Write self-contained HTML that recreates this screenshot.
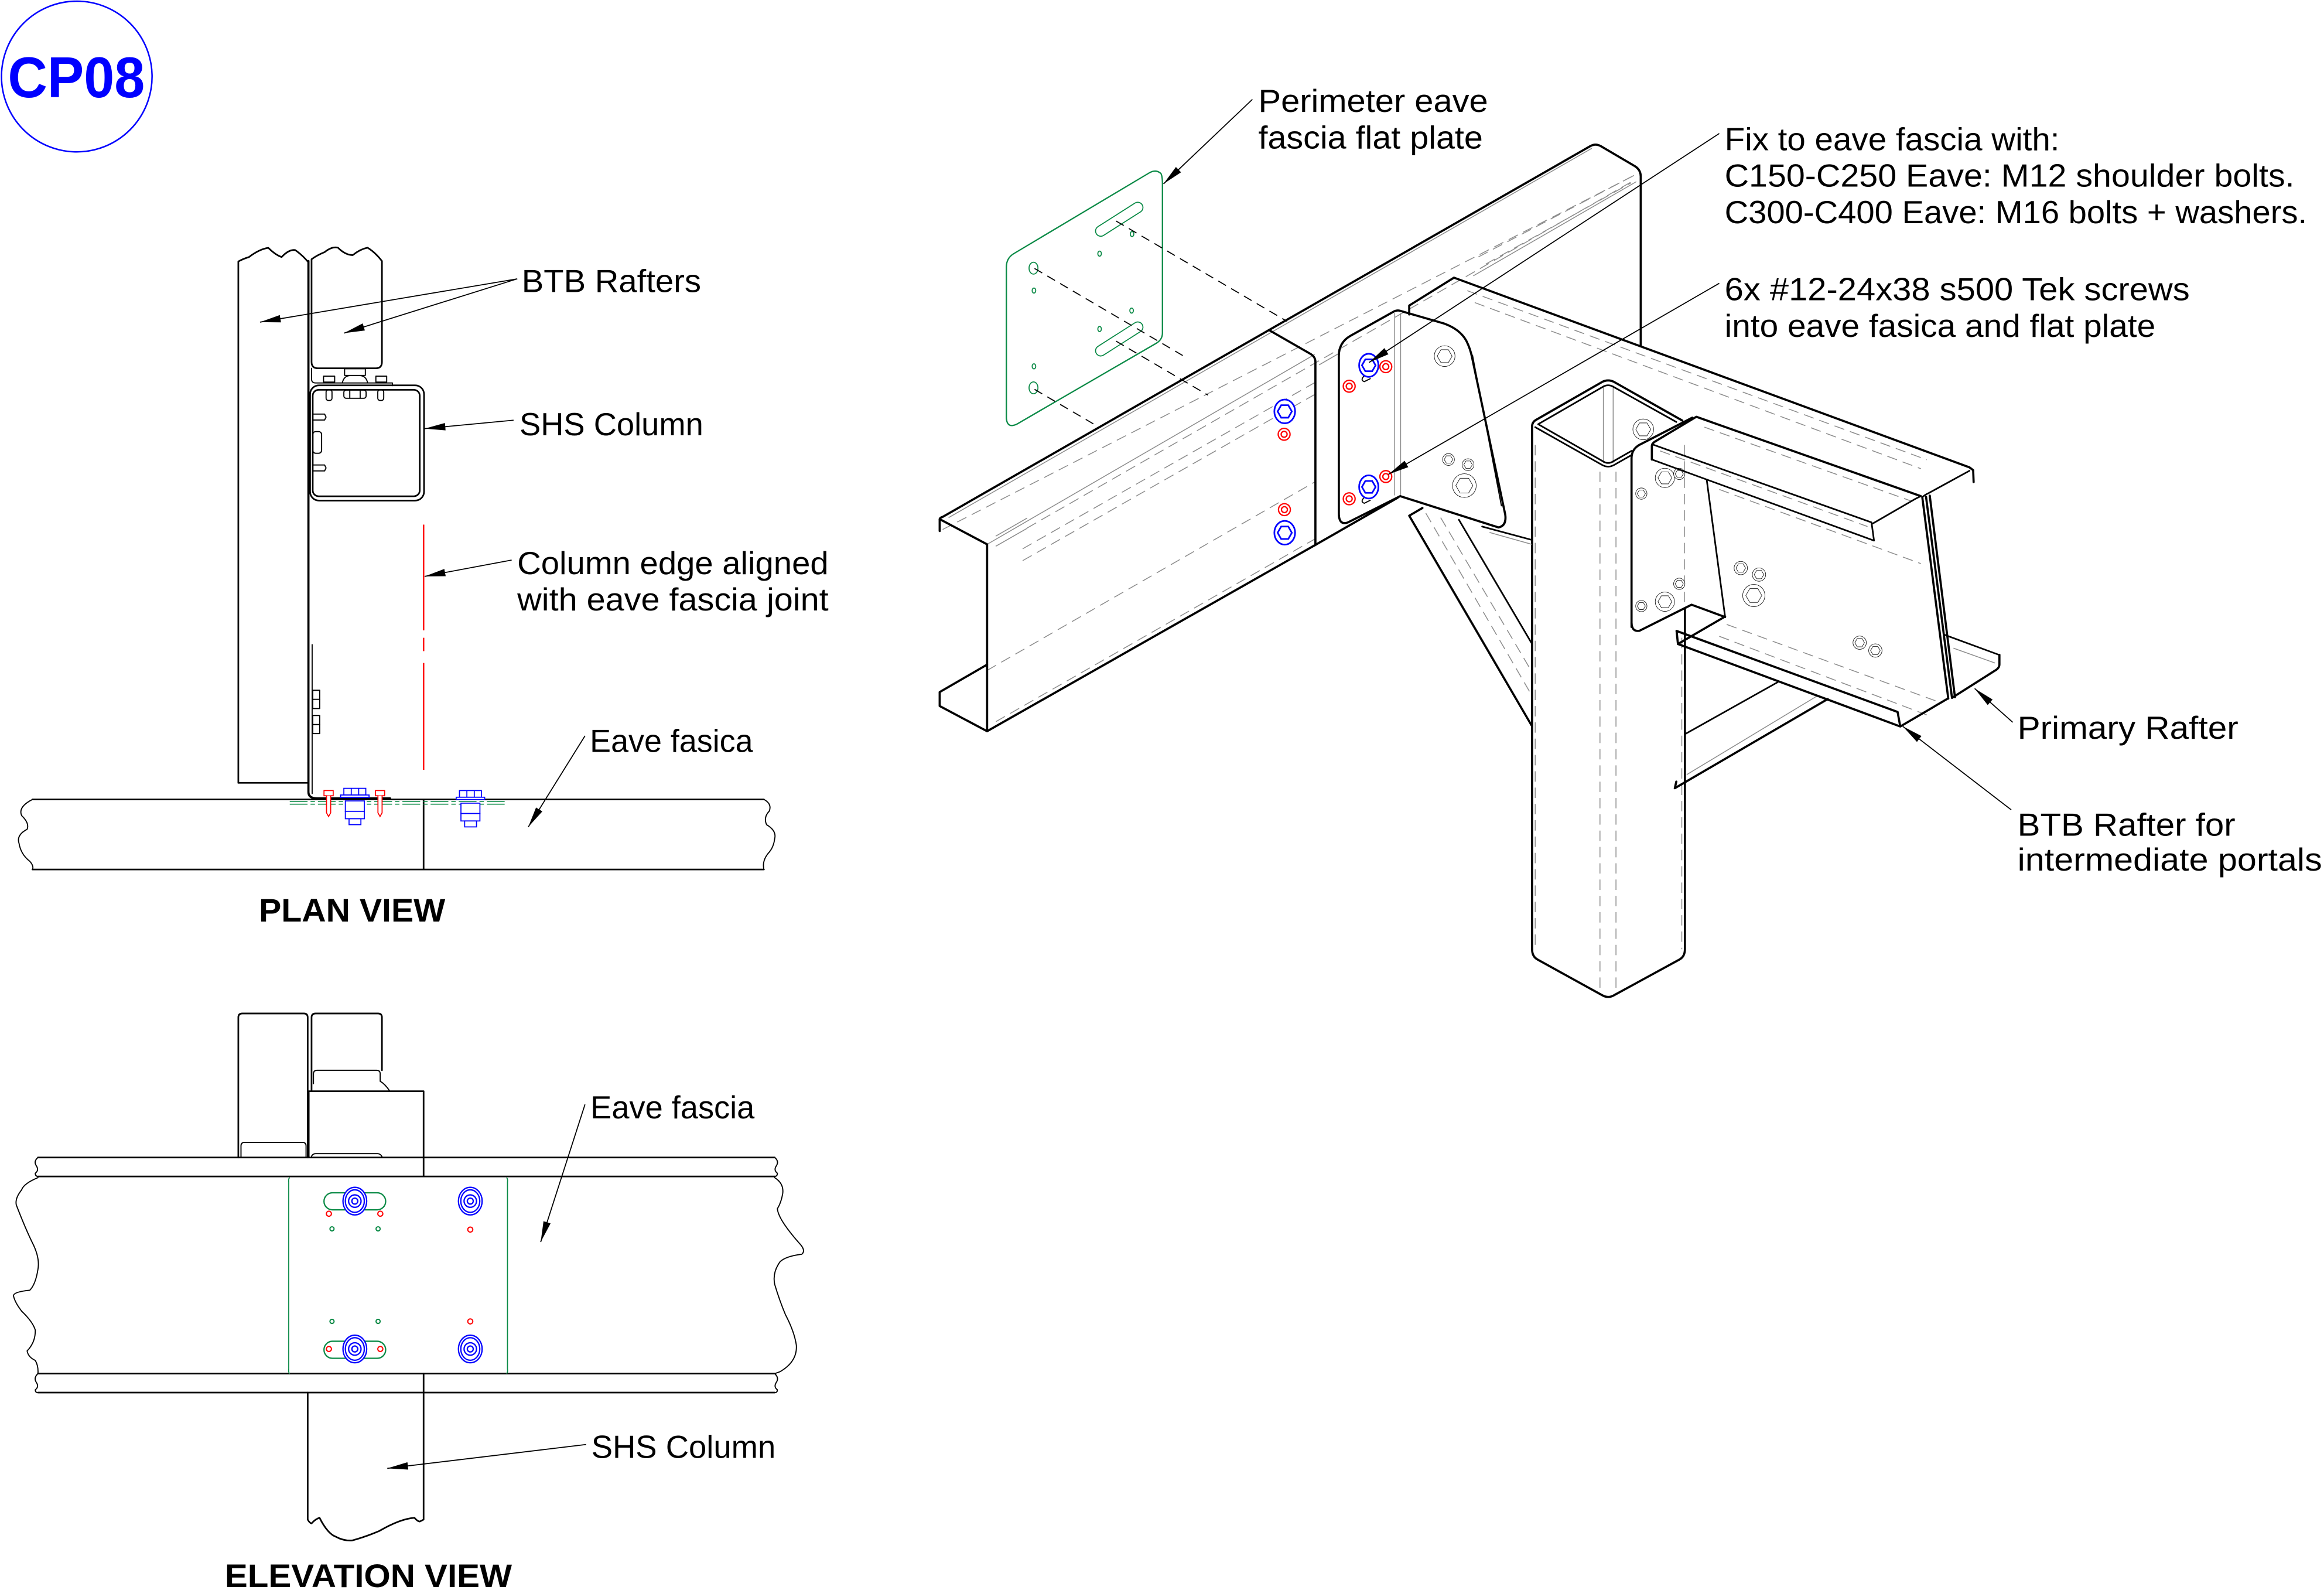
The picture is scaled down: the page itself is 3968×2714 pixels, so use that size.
<!DOCTYPE html>
<html><head><meta charset="utf-8"><style>
html,body{margin:0;padding:0;background:#fff;}
svg{display:block;}
text{font-family:"Liberation Sans",sans-serif;fill:#000;}
.k{fill:none;stroke:#000;stroke-width:1.45;stroke-linecap:round;stroke-linejoin:round}
.m{fill:none;stroke:#000;stroke-width:1.1;stroke-linecap:round;stroke-linejoin:round}
.t{fill:none;stroke:#000;stroke-width:0.75;stroke-linecap:round;stroke-linejoin:round}
.g{fill:none;stroke:#8c8c8c;stroke-width:0.6}
.gd{fill:none;stroke:#8c8c8c;stroke-width:0.6;stroke-dasharray:7 4}
.ld{fill:none;stroke:#000;stroke-width:0.7}
.dd{fill:none;stroke:#000;stroke-width:0.7;stroke-dasharray:6 4}
.bw{fill:#fff;stroke:#000;stroke-width:0.8;vector-effect:non-scaling-stroke}
.bb{fill:#fff;stroke:#0000ff;stroke-width:1.1}
.rr{fill:#fff;stroke:#ff0000;stroke-width:0.9}
.gr{fill:none;stroke:#0a8a46;stroke-width:0.9}
.grt{fill:none;stroke:#0a8a46;stroke-width:0.7}
.lb{font-size:21.5px}
</style></head><body>
<svg xmlns="http://www.w3.org/2000/svg" width="3968" height="2714" viewBox="0 0 1568 1072" preserveAspectRatio="none">
<defs>
<marker id="ah" markerUnits="userSpaceOnUse" markerWidth="14" markerHeight="5" refX="14" refY="2.5" orient="auto" viewBox="0 0 14 5"><path d="M0,0 L14,2.5 L0,5 z" fill="#000"/></marker>
</defs>
<rect width="1568" height="1072" fill="#fff"/>

<!-- CP08 -->
<circle cx="51.8" cy="51.6" r="50.8" fill="none" stroke="#0000ff" stroke-width="1"/>
<text x="5.3" y="65.5" font-size="39" font-weight="bold" style="fill:#0000ff" textLength="92.4" lengthAdjust="spacingAndGlyphs">CP08</text>

<!-- ================= PLAN VIEW ================= -->
<path class="m" d="M160.8,527.8 L160.8,176.3 Q164,174.5 168,173.3 Q175,168 181,167.1 Q186,172 190,173.3 Q195,168 199.2,168.6 Q204,172 207.6,176.3"/>
<path class="m" d="M160.8,527.8 L207.6,527.8"/>
<path class="k" d="M208.1,176 L208.1,534 Q208.1,538.3 214,538.3 L263.2,538.3"/>
<path class="m" d="M210.2,174.8 Q214,172 219,170 Q224,166 228,167 Q233,172 238,172 Q243,168 248,167 Q253,170 257.7,176 L257.7,244 Q257.7,248.3 253.5,248.3 L214.5,248.3 Q210.2,248.3 210.2,244 Z"/>
<path class="t" d="M210.2,248.3 L210.2,256 Q210.5,258.2 213,258.2 L264.8,258.2 L264.8,260"/>
<!-- top bolts -->
<g class="t">
<rect x="218.3" y="253.6" width="7.5" height="4"/>
<rect x="220" y="262.8" width="4" height="7.2" rx="1.5"/>
<rect x="253.6" y="253.6" width="7.3" height="4"/>
<rect x="254.9" y="262.8" width="4" height="7.2" rx="1.5"/>
<rect x="232.5" y="248.6" width="14" height="4.5"/>
<path d="M231,258 Q232,253.5 236,253.2 L243,253.2 Q247,253.5 248,258"/>
<rect x="232" y="263" width="15" height="5.5" rx="1.5"/>
<line x1="236" y1="263" x2="236" y2="268.5"/><line x1="243" y1="263" x2="243" y2="268.5"/>
</g>
<!-- column -->
<rect class="m" x="209.2" y="259.8" width="76.9" height="77.7" rx="6"/>
<rect class="m" x="211" y="262.8" width="72.2" height="71.8" rx="4"/>
<g class="t">
<path d="M211,279.2 L219,279.2 L220,281.2 L219,283.2 L211,283.2"/>
<rect x="211" y="291" width="6" height="14.6" rx="2"/>
<path d="M211,313.5 L219,313.5 L220,315.5 L219,317.5 L211,317.5"/>
<line x1="210.6" y1="434.6" x2="210.6" y2="535"/>
<rect x="211" y="465.4" width="4.7" height="12.3"/>
<rect x="211" y="482.4" width="4.7" height="12.2"/>
<line x1="211" y1="471.5" x2="215.7" y2="471.5"/><line x1="211" y1="488.5" x2="215.7" y2="488.5"/>
</g>
<!-- red alignment line -->
<g stroke="#ff0000" stroke-width="1">
<line x1="285.8" y1="353.7" x2="285.8" y2="425"/>
<line x1="285.8" y1="430" x2="285.8" y2="439"/>
<line x1="285.8" y1="447" x2="285.8" y2="519"/>
</g>
<!-- fascia plan -->
<path class="m" d="M21.9,539 L515.4,539 M21.9,586.2 L515.4,586.2 M285.8,539 L285.8,586.2"/>
<path class="t" d="M21.9,539 Q12,544 14.6,549.9 Q20,555 18.3,559.1 Q11,563 12.8,568.4 Q14,576 20.1,580.7 Q23,584 21.9,586.2"/>
<path class="t" d="M515.4,539 Q521,542 519,546.9 Q515,551 517.2,556 Q524,560 522.7,565.3 Q522,571 519,574.5 Q514,580 515.4,586.2"/>
<g stroke="#0a8a46" stroke-width="0.6" stroke-dasharray="12 2 3 2">
<line x1="195.5" y1="540.4" x2="341.7" y2="540.4"/>
<line x1="195.5" y1="542.2" x2="341.7" y2="542.2"/>
</g>
<g fill="#fff" stroke="#ff0000" stroke-width="0.7">
<rect x="218.6" y="533" width="6.2" height="3.5"/><path d="M220.3,536.5 L220.3,548 L221.7,550.5 L223.1,548 L223.1,536.5"/>
<rect x="253.3" y="533" width="6.2" height="3.5"/><path d="M255,536.5 L255,548 L256.4,550.5 L257.8,548 L257.8,536.5"/>
</g>
<g fill="#fff" stroke="#0000ff" stroke-width="0.7">
<g>
<rect x="232" y="531.5" width="14.8" height="4.5"/><rect x="229.8" y="536" width="19.2" height="1.6"/>
<rect x="233" y="540" width="12.8" height="7"/><rect x="233" y="547" width="12.8" height="5"/><rect x="235.5" y="552" width="8" height="4"/>
<line x1="237" y1="531.5" x2="237" y2="536"/><line x1="242" y1="531.5" x2="242" y2="536"/>
</g>
<g transform="translate(78,1.5)">
<rect x="232" y="531.5" width="14.8" height="4.5"/><rect x="229.8" y="536" width="19.2" height="1.6"/>
<rect x="233" y="540" width="12.8" height="7"/><rect x="233" y="547" width="12.8" height="5"/><rect x="235.5" y="552" width="8" height="4"/>
<line x1="237" y1="531.5" x2="237" y2="536"/><line x1="242" y1="531.5" x2="242" y2="536"/>
</g>
</g>
<!-- plan leaders -->
<path class="ld" d="M349,188 L175.4,217.2" marker-end="url(#ah)"/>
<path class="ld" d="M349,188 L232.1,224.6" marker-end="url(#ah)"/>
<path class="ld" d="M346.5,283.3 L286.5,289" marker-end="url(#ah)"/>
<path class="ld" d="M345.2,377.6 L286.5,388.6" marker-end="url(#ah)"/>
<path class="ld" d="M394.7,496.1 L356.4,557.6" marker-end="url(#ah)"/>
<text class="lb" x="352" y="197" textLength="121" lengthAdjust="spacingAndGlyphs">BTB Rafters</text>
<text class="lb" x="350.5" y="293.5" textLength="124" lengthAdjust="spacingAndGlyphs">SHS Column</text>
<text class="lb" x="349" y="387" textLength="210" lengthAdjust="spacingAndGlyphs">Column edge aligned</text>
<text class="lb" x="349" y="411.5" textLength="210" lengthAdjust="spacingAndGlyphs">with eave fascia joint</text>
<text class="lb" x="398" y="507" textLength="110" lengthAdjust="spacingAndGlyphs">Eave fasica</text>
<text x="174.7" y="621.3" font-size="22" font-weight="bold" textLength="125.7" lengthAdjust="spacingAndGlyphs">PLAN VIEW</text>

<!-- ================= ELEVATION VIEW ================= -->
<path class="m" d="M160.8,780.4 L160.8,686 Q160.8,683.3 163.5,683.3 L205,683.3 Q207.6,683.3 207.6,686 L207.6,780.4"/>
<path class="t" d="M162.6,780.4 L162.6,772.5 Q162.6,770.2 165,770.2 L204,770.2 Q206.5,770.2 206.5,772.5 L206.5,780.4"/>
<path class="m" d="M210.2,735.7 L210.2,686 Q210.2,683.3 213,683.3 L255,683.3 Q257.7,683.3 257.7,686 L257.7,721.6"/>
<path class="t" d="M211.5,730.6 L211.5,724 Q211.5,721.6 214,721.6 L254,721.6 Q256.5,721.6 256.5,724 L256.5,729 Q260,731 263,735.7"/>
<path class="t" d="M210.2,780.4 L210.2,779.5 Q211,777.8 213,777.8 L255,777.8 Q257,778 258,780.4"/>
<path class="m" d="M208.3,780.4 L208.3,735.7 L285.8,735.7 L285.8,793.2"/>
<!-- fascia -->
<path class="m" d="M25.6,780.4 L522.7,780.4 M25.6,793.2 L522.7,793.2 M25.6,926.1 L522.7,926.1 M25.6,938.9 L522.7,938.9"/>
<path class="t" d="M25.6,780.4 Q22.5,783 24.5,786 Q26.5,789 23.8,791 Q23.8,793 25.6,793.2"/>
<path class="t" d="M522.7,780.4 Q525.8,783 523.8,786 Q521.8,789 524.5,791 Q524.5,793 522.7,793.2"/>
<path class="t" d="M25.6,926.1 Q22.5,929 24.5,932 Q26.5,935 23.8,937 Q23.8,939 25.6,938.9"/>
<path class="t" d="M522.7,926.1 Q525.8,929 523.8,932 Q521.8,935 524.5,937 Q524.5,939 522.7,938.9"/>
<path class="t" d="M25.6,794 Q16,798 14.6,802.2 Q10,808 11,812.4 Q17,828 21.9,838 Q27,848 25.6,855.8 Q24,866 20.1,869.9 Q9,871 9.1,873.7 Q10,878 14.6,884 Q22,891 23.8,896.7 Q24,905 18.3,910.8 Q19,915 23.8,917.2 Q26,921 25.6,926.1"/>
<path class="t" d="M522.7,794 Q529,798 528.1,804.7 Q527,811 524.5,814.9 Q525,822 539.1,838 Q544,843 541,845.6 Q530,847 526.3,850.7 Q521,858 522.7,866 Q526,877 530,886.5 Q536,898 537.3,907 Q538,918 526.3,924.8 L522.7,926.1"/>
<path class="m" d="M285.8,926.1 L285.8,938.9"/>
<path class="m" d="M207.6,938.9 L207.6,1024.5 Q209,1027 210.2,1027.1 Q213,1024 215.6,1023.3 Q221,1034 226.6,1036.1 Q232,1039 237.6,1038.6 Q247,1036 255.9,1032.2 Q270,1024 279.6,1023.3 Q282,1026 283.3,1025.8 Q285,1025 285.8,1024.5 L285.8,938.9"/>
<!-- green plate -->
<path class="grt" d="M195.5,794 Q194.5,794.5 194.8,797 L194.8,923 Q194.5,925.5 195.5,926.1 M341.7,794 Q342.7,794.5 342.4,797 L342.4,923 Q342.7,925.5 341.7,926.1"/>
<rect class="gr" x="218.6" y="804.2" width="41.6" height="11.5" rx="5.75"/>
<rect class="gr" x="218.6" y="904.3" width="41.6" height="11.5" rx="5.75"/>
<g fill="#fff" stroke="#0000ff" stroke-width="0.9">
<g transform="translate(239.4,809.8)"><ellipse rx="8" ry="9.3"/><ellipse rx="6.4" ry="7.6"/><circle r="4.2"/><circle r="2"/></g>
<g transform="translate(317.3,809.8)"><ellipse rx="8" ry="9.3"/><ellipse rx="6.4" ry="7.6"/><circle r="4.2"/><circle r="2"/></g>
<g transform="translate(239.4,909.5)"><ellipse rx="8" ry="9.3"/><ellipse rx="6.4" ry="7.6"/><circle r="4.2"/><circle r="2"/></g>
<g transform="translate(317.3,909.5)"><ellipse rx="8" ry="9.3"/><ellipse rx="6.4" ry="7.6"/><circle r="4.2"/><circle r="2"/></g>
</g>
<g fill="none" stroke="#ff0000" stroke-width="0.8">
<circle cx="221.9" cy="818.3" r="1.7"/><circle cx="256.6" cy="818.3" r="1.7"/>
<circle cx="317.3" cy="829" r="1.7"/><circle cx="317.3" cy="890.9" r="1.7"/>
<circle cx="221.9" cy="909.5" r="1.7"/><circle cx="256.6" cy="909.5" r="1.7"/>
</g>
<g fill="none" stroke="#0a8a46" stroke-width="0.8">
<circle cx="224" cy="828.5" r="1.4"/><circle cx="255.1" cy="828.5" r="1.4"/>
<circle cx="224" cy="890.9" r="1.4"/><circle cx="255.1" cy="890.9" r="1.4"/>
</g>
<path class="ld" d="M394.7,744.6 L364.8,837.4" marker-end="url(#ah)"/>
<path class="ld" d="M395.5,973.9 L261.3,990" marker-end="url(#ah)"/>
<text class="lb" x="398.4" y="754" textLength="110.7" lengthAdjust="spacingAndGlyphs">Eave fascia</text>
<text class="lb" x="399" y="983" textLength="124.3" lengthAdjust="spacingAndGlyphs">SHS Column</text>
<text x="151.7" y="1070" font-size="22" font-weight="bold" textLength="193.7" lengthAdjust="spacingAndGlyphs">ELEVATION VIEW</text>

<!-- ================= 3D VIEW ================= -->
<!-- eave hidden/tangent lines -->
<path class="g" d="M666,367 L887,239 M671.8,361.5 L693,349.3 M671.8,368.3 L693,356.2"/>
<path class="gd" d="M636,357 L1104,117.5"/>
<path class="gd" d="M693,356 L1100,123"/>
<path class="gd" d="M690,370 L887,258"/>
<path class="gd" d="M690,378 L887,266"/>
<path class="gd" d="M672,486.5 L887,363.5"/>
<path class="gd" d="M666,452 L887,325"/>
<path class="g" d="M890,246 L903,238.5 M994,186 L1104,122.5"/>
<path class="gd" d="M997.5,173.2 L1103.9,117.5 M1002.4,178.1 L1100.6,123.2"/>
<path class="g" d="M640,349 L1074,100"/>
<!-- eave visible edges -->
<path class="k" d="M634,358 L634,350.5 Q634,349 636,348.5 L1073,98.5 Q1076.5,96.5 1080,98.5 L1103,112 Q1107,114.5 1107,119 L1107,233"/>
<path class="k" d="M634,350 L666,367 L666,493 L634,476 L634,466.6 L666,448.1"/>
<path class="k" d="M666,493 L887.3,367.5 L943,335.6"/>
<path class="k" d="M857,223 L884,238.5 Q887.5,240.5 887.5,244 L887.5,367.5"/>
<!-- eave left piece bolts -->
<g transform="translate(866.8,277.4)"><ellipse class="bb" rx="7" ry="8"/><polygon class="bb" points="4.8,0 2.4,4.2 -2.4,4.2 -4.8,0 -2.4,-4.2 2.4,-4.2"/></g>
<g transform="translate(866.8,359.2)"><ellipse class="bb" rx="7" ry="8"/><polygon class="bb" points="4.8,0 2.4,4.2 -2.4,4.2 -4.8,0 -2.4,-4.2 2.4,-4.2"/></g>
<g transform="translate(866.4,292.8)"><circle class="rr" r="4"/><circle class="rr" r="2"/></g>
<g transform="translate(866.6,343.6)"><circle class="rr" r="4"/><circle class="rr" r="2"/></g>

<!-- flat plate (green) -->
<path class="gr" d="M679,180 Q679,174 684,171 L775.5,116.5 Q780,114 783.3,117 Q784.3,119 784.3,124 L784.3,224.5 Q784.3,229 780,231.5 L686,286 Q679.5,289 679,282 Z"/>
<rect class="grt" x="737.2" y="145.5" width="36.6" height="7" rx="3.5" transform="rotate(-32.5 753.3 149)"/>
<rect class="grt" x="737.2" y="226.2" width="36.6" height="7" rx="3.5" transform="rotate(-32.5 753.3 229.7)"/>
<g class="grt">
<ellipse cx="697.3" cy="180.8" rx="3" ry="4"/><ellipse cx="697.3" cy="261.5" rx="3" ry="4"/>
<ellipse cx="763.8" cy="157.8" rx="1.2" ry="1.7"/><ellipse cx="741.9" cy="171" rx="1.2" ry="1.7"/>
<ellipse cx="697.6" cy="195.9" rx="1.2" ry="1.7"/><ellipse cx="763.5" cy="209.4" rx="1.2" ry="1.7"/>
<ellipse cx="741.9" cy="221.8" rx="1.2" ry="1.7"/><ellipse cx="697.6" cy="247" rx="1.2" ry="1.7"/>
</g>
<path class="dd" d="M753,149 L868.3,216.6 M698,181 L798,239.7 M753,230 L815,266.4 M698,262.5 L741,287.7"/>
<path class="ld" d="M845,67 L785,124" marker-end="url(#ah)"/>

<!-- primary rafter -->
<path class="gd" d="M990,196 L1300,310 M995,204 L1296,316"/>
<path class="k" d="M950.8,212 L950.8,206 L981,187.2 L1328.8,315.1 L1331.3,317 L1331.6,325"/>
<path class="m" d="M1328.8,317.4 L1301,332.6 Q1298,334 1297,335.4"/>
<path class="k" d="M1317.3,470.3 L1347,451.5 Q1349,450 1349,448 L1349,441.5"/>
<path class="m" d="M1312,428 L1348.2,441.3"/>
<path class="g" d="M1318,437 L1346,447"/>

<!-- column -->
<path class="gd" d="M1079.5,318 L1079.5,668 M1090.3,318 L1090.3,668 M1035.8,300 L1035.8,640 M1134.7,430 L1134.7,640"/>
<path class="g" d="M1081.8,260 L1081.8,312 M1088.4,260 L1088.4,312"/>
<path class="k" d="M1033.7,640 L1033.7,287.5 Q1033.7,284.5 1036.5,283 L1081,257.5 Q1085,255.5 1089,257.5 L1135,283.5"/>
<path class="m" d="M1035.8,288 L1081,313.5 Q1085,315.7 1089,313.5 L1100.8,306.8"/>
<path class="m" d="M1037.8,286 L1082,260.5 Q1085,259 1088,260.5 L1131,284.5 M1037.8,286 L1082,311.3 Q1085,313 1088,311.3 L1100.8,304"/>
<path class="k" d="M1033.7,640 Q1033.7,645 1037.5,647 L1081,671 Q1085,673.3 1089,671 L1133,647 Q1136.8,645 1136.8,640 L1136.8,410"/>

<!-- left knee brace -->
<path class="gd" d="M962,346 L1033,468 M972,349 L1033,452"/>
<path class="k" d="M959.7,342.5 L950.8,347.7 L1033.3,489"/>
<path class="m" d="M984.3,350.4 L1033.3,433.5"/>
<path class="m" d="M1000,355 L1033.5,364"/>
<path class="g" d="M1005,359 L1033.5,367"/>

<!-- eave cleat -->
<path class="g" d="M941,211 L941,334 M945,211 L945,334"/>
<path class="k" d="M903.3,346 L903.3,240 Q903.3,231 911,226.5 L940.5,210 Q942.5,209 944.5,209.5 L974.5,218.2 Q985,222 989.3,229.7 Q992,235 993.2,241 L1015.6,347 Q1016.6,354.5 1011,355.6 L944.7,334.5 L909.5,352.2 Q903.3,354.5 903.3,346 Z"/>
<path class="t" d="M993.5,239.5 L1013,341"/>
<!-- cleat bolts -->
<g transform="translate(923.5,246.3)"><path class="t" d="M-3,7 Q-6,10 -3,11 L1,9"/><ellipse class="bb" rx="6.5" ry="7.8"/><polygon class="bb" points="4.6,0 2.3,4 -2.3,4 -4.6,0 -2.3,-4 2.3,-4"/></g>
<g transform="translate(923.5,328.3)"><path class="t" d="M-3,7 Q-6,10 -3,11 L1,9"/><ellipse class="bb" rx="6.5" ry="7.8"/><polygon class="bb" points="4.6,0 2.3,4 -2.3,4 -4.6,0 -2.3,-4 2.3,-4"/></g>
<g transform="translate(935,247.2)"><circle class="rr" r="4"/><circle class="rr" r="2"/></g>
<g transform="translate(910.3,260.4)"><circle class="rr" r="4"/><circle class="rr" r="2"/></g>
<g transform="translate(935,321.3)"><circle class="rr" r="4"/><circle class="rr" r="2"/></g>
<g transform="translate(910.3,336.3)"><circle class="rr" r="4"/><circle class="rr" r="2"/></g>
<g transform="translate(974.7,240.1) scale(7)"><circle class="bw" r="1"/><polygon class="bw" points="0.72,0 0.36,0.62 -0.36,0.62 -0.72,0 -0.36,-0.62 0.36,-0.62"/></g>
<g transform="translate(988,327.4) scale(8)"><circle class="bw" r="1"/><polygon class="bw" points="0.72,0 0.36,0.62 -0.36,0.62 -0.72,0 -0.36,-0.62 0.36,-0.62"/></g>
<g transform="translate(977.3,309.8) scale(4)"><circle class="bw" r="1"/><polygon class="bw" points="0.72,0 0.36,0.62 -0.36,0.62 -0.72,0 -0.36,-0.62 0.36,-0.62"/></g>
<g transform="translate(990.5,313.3) scale(4)"><circle class="bw" r="1"/><polygon class="bw" points="0.72,0 0.36,0.62 -0.36,0.62 -0.72,0 -0.36,-0.62 0.36,-0.62"/></g>

<!-- right knee brace -->
<path class="g" d="M1138,522.3 L1226.4,469"/>
<path class="m" d="M1136.8,495 L1199.3,460"/>
<path class="k" d="M1130,531.4 L1233.2,471.3 M1130,531.4 L1131,527"/>

<!-- BTB cleat -->
<path class="gd" d="M1136.5,300 L1136.5,408"/>
<path class="k" d="M1100.8,422.7 L1100.8,309 Q1100.8,303 1106,300 L1141.8,281.6"/>
<path class="k" d="M1100.8,420 Q1101,426 1106.1,425.3 L1141.3,407.7 L1163.9,416"/>
<g transform="translate(1108.7,289.5) scale(7)"><circle class="bw" r="1"/><polygon class="bw" points="0.72,0 0.36,0.62 -0.36,0.62 -0.72,0 -0.36,-0.62 0.36,-0.62"/></g>
<g transform="translate(1123.3,322.2) scale(6.5)"><circle class="bw" r="1"/><polygon class="bw" points="0.72,0 0.36,0.62 -0.36,0.62 -0.72,0 -0.36,-0.62 0.36,-0.62"/></g>
<g transform="translate(1123.3,405.7) scale(6.5)"><circle class="bw" r="1"/><polygon class="bw" points="0.72,0 0.36,0.62 -0.36,0.62 -0.72,0 -0.36,-0.62 0.36,-0.62"/></g>
<g transform="translate(1107.4,332.8) scale(3.8)"><circle class="bw" r="1"/><polygon class="bw" points="0.72,0 0.36,0.62 -0.36,0.62 -0.72,0 -0.36,-0.62 0.36,-0.62"/></g>
<g transform="translate(1107.4,408.6) scale(3.8)"><circle class="bw" r="1"/><polygon class="bw" points="0.72,0 0.36,0.62 -0.36,0.62 -0.72,0 -0.36,-0.62 0.36,-0.62"/></g>
<g transform="translate(1133,319.5) scale(3.8)"><circle class="bw" r="1"/><polygon class="bw" points="0.72,0 0.36,0.62 -0.36,0.62 -0.72,0 -0.36,-0.62 0.36,-0.62"/></g>
<g transform="translate(1133,393.6) scale(3.8)"><circle class="bw" r="1"/><polygon class="bw" points="0.72,0 0.36,0.62 -0.36,0.62 -0.72,0 -0.36,-0.62 0.36,-0.62"/></g>

<!-- BTB rafter -->
<path class="gd" d="M1150,288 L1290,338 M1120,304 L1260,355 M1160,330 L1296,380 M1165,421 L1310,474 M1160,429 L1300,482"/>
<path class="k" d="M1114.5,309.8 L1114.5,300.5 Q1115,298.5 1117,297.5 L1144.5,281 L1296,334.5"/>
<path class="m" d="M1114.5,299.5 L1262.7,352.2 L1264.4,364.5 L1114.5,309.8"/>
<path class="m" d="M1263.5,353 L1292,336.5 Q1294.5,335.2 1296,334.5"/>
<path class="k" d="M1297,335.5 L1314.5,471 M1299.5,335 L1317,470.5 M1302,334.2 L1319,470"/>
<path class="m" d="M1151.5,323.3 L1163.9,415.7"/>
<path class="k" d="M1131.2,425.4 L1132.1,434.2 L1163.9,415.7"/>
<path class="k" d="M1131.2,425.4 L1280.3,480 L1282.1,489.8 L1313.8,471.2 M1132.1,434.2 L1282.1,489.8"/>
<g transform="translate(1174.5,383) scale(4.5)"><circle class="bw" r="1"/><polygon class="bw" points="0.72,0 0.36,0.62 -0.36,0.62 -0.72,0 -0.36,-0.62 0.36,-0.62"/></g>
<g transform="translate(1186.8,387.4) scale(4.5)"><circle class="bw" r="1"/><polygon class="bw" points="0.72,0 0.36,0.62 -0.36,0.62 -0.72,0 -0.36,-0.62 0.36,-0.62"/></g>
<g transform="translate(1183.3,401.5) scale(7.5)"><circle class="bw" r="1"/><polygon class="bw" points="0.72,0 0.36,0.62 -0.36,0.62 -0.72,0 -0.36,-0.62 0.36,-0.62"/></g>
<g transform="translate(1254.7,433.3) scale(4.5)"><circle class="bw" r="1"/><polygon class="bw" points="0.72,0 0.36,0.62 -0.36,0.62 -0.72,0 -0.36,-0.62 0.36,-0.62"/></g>
<g transform="translate(1265.3,438.6) scale(4.5)"><circle class="bw" r="1"/><polygon class="bw" points="0.72,0 0.36,0.62 -0.36,0.62 -0.72,0 -0.36,-0.62 0.36,-0.62"/></g>

<!-- 3D leaders -->
<path class="ld" d="M1160,90 L923.7,244.4" marker-end="url(#ah)"/>
<path class="ld" d="M1160,191 L936.8,319.8" marker-end="url(#ah)"/>
<path class="ld" d="M1358,487 L1332.3,464.2" marker-end="url(#ah)"/>
<path class="ld" d="M1357,546 L1283.8,489.7" marker-end="url(#ah)"/>

<!-- 3D labels -->
<text class="lb" x="849" y="75.5" textLength="155" lengthAdjust="spacingAndGlyphs">Perimeter eave</text>
<text class="lb" x="849" y="100.2" textLength="151.5" lengthAdjust="spacingAndGlyphs">fascia flat plate</text>
<text class="lb" x="1163.6" y="101.4" textLength="226" lengthAdjust="spacingAndGlyphs">Fix to eave fascia with:</text>
<text class="lb" x="1163.6" y="125.9" textLength="384.5" lengthAdjust="spacingAndGlyphs">C150-C250 Eave: M12 shoulder bolts.</text>
<text class="lb" x="1163.6" y="150.5" textLength="393" lengthAdjust="spacingAndGlyphs">C300-C400 Eave: M16 bolts + washers.</text>
<text class="lb" x="1163.6" y="202.4" textLength="313.8" lengthAdjust="spacingAndGlyphs">6x #12-24x38 s500 Tek screws</text>
<text class="lb" x="1163.6" y="227.1" textLength="290.7" lengthAdjust="spacingAndGlyphs">into eave fasica and flat plate</text>
<text class="lb" x="1361.2" y="498" textLength="149" lengthAdjust="spacingAndGlyphs">Primary Rafter</text>
<text class="lb" x="1361.2" y="563.4" textLength="147" lengthAdjust="spacingAndGlyphs">BTB Rafter for</text>
<text class="lb" x="1361.2" y="587" textLength="205.5" lengthAdjust="spacingAndGlyphs">intermediate portals</text>
</svg>
</body></html>
